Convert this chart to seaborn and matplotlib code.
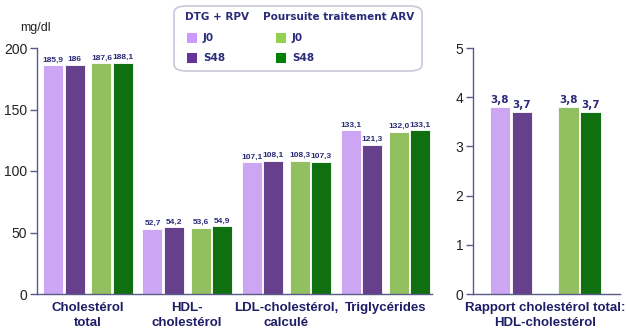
import matplotlib
matplotlib.use("Agg")
import matplotlib.pyplot as plt
from matplotlib.patches import FancyBboxPatch, Rectangle
import numpy as np
import pandas as pd
import seaborn as sns

# Lipid parameters (mg/dl), per arm and visit
categories = ["Cholestérol\ntotal", "HDL-\ncholestérol", "LDL-cholestérol,\ncalculé", "Triglycérides"]
dtg_j0 = [185.9, 52.7, 107.1, 133.1]
dtg_s48 = [186.0, 54.2, 108.1, 121.3]
arv_j0 = [187.6, 53.6, 108.3, 132.0]
arv_s48 = [188.1, 54.9, 107.3, 133.1]
dtg_j0_txt = ["185,9", "52,7", "107,1", "133,1"]
dtg_s48_txt = ["186", "54,2", "108,1", "121,3"]
arv_j0_txt = ["187,6", "53,6", "108,3", "132,0"]
arv_s48_txt = ["188,1", "54,9", "107,3", "133,1"]

# Total cholesterol / HDL ratio
ratio_category = "Rapport cholestérol total:\nHDL-cholestérol"
ratio_values = [3.8, 3.7, 3.8, 3.7]
ratio_txt = ["3,8", "3,7", "3,8", "3,7"]

series = ["DTG J0", "DTG S48", "ARV J0", "ARV S48"]
colors = ["#CC99FF", "#663399", "#92D050", "#008000"]
navy = "#2B2B7A"
label_navy = "#1E1E66"
axis_col = "#5B5B8A"

sns.set_theme(style="white")
plt.rcParams["font.family"] = ["Liberation Sans", "DejaVu Sans"]

fig = plt.figure(figsize=(6.26, 3.31), dpi=100)
W, H = 626, 331


def px_axes(x0, x1, y0, y1):
    return fig.add_axes([x0 / W, 1 - y1 / H, (x1 - x0) / W, (y1 - y0) / H])


ax = px_axes(37, 432, 48, 294)
ax2 = px_axes(473, 620, 48, 294)

# --- left panel: mg/dl values ---
offsets = [-0.35, -0.135, 0.135, 0.35]
rows = []
for s, off, vals, txts in zip(series, offsets, [dtg_j0, dtg_s48, arv_j0, arv_s48],
                              [dtg_j0_txt, dtg_s48_txt, arv_j0_txt, arv_s48_txt]):
    for i, (v, t) in enumerate(zip(vals, txts)):
        rows.append({"pos": i + off, "value": v, "series": s, "txt": t})
df = pd.DataFrame(rows)

sns.barplot(data=df, x="pos", y="value", hue="series", hue_order=series,
            palette=colors, native_scale=True, dodge=False, width=0.94,
            edgecolor="white", linewidth=0.6, legend=False, ax=ax)
for _, r in df.iterrows():
    ax.text(r["pos"], r["value"] + 1.5, r["txt"], ha="center", va="bottom",
            fontsize=6, fontweight="bold", color=navy)

ax.set_xlim(-0.515, 3.47)
ax.set_ylim(0, 200)
ax.set_yticks([0, 50, 100, 150, 200])
ax.set_xticks(range(len(categories)))
ax.set_xticklabels(categories, fontsize=9.5, fontweight="bold", color=label_navy,
                   linespacing=1.25)
ax.set_xlabel("")
ax.set_ylabel("")
fig.text(20 / W, 1 - 28 / H, "mg/dl", ha="left", va="center",
         fontsize=9, color="#222222")

# --- right panel: ratio ---
roffsets = [-0.455, -0.232, 0.237, 0.46]
rrows = [{"pos": o, "value": v, "series": s, "txt": t}
         for s, o, v, t in zip(series, roffsets, ratio_values, ratio_txt)]
rdf = pd.DataFrame(rrows)
sns.barplot(data=rdf, x="pos", y="value", hue="series", hue_order=series,
            palette=colors, native_scale=True, dodge=False, width=0.94,
            edgecolor="white", linewidth=0.6, legend=False, ax=ax2)
for _, r in rdf.iterrows():
    ax2.text(r["pos"], r["value"] + 0.04, r["txt"], ha="center", va="bottom",
             fontsize=7.5, fontweight="bold", color=navy,
             family=["DejaVu Sans"])
ax2.set_xlim(-0.727, 0.758)
ax2.set_ylim(0, 5)
ax2.set_yticks([0, 1, 2, 3, 4, 5])
ax2.set_xticks([0])
ax2.set_xticklabels([ratio_category], fontsize=9.5, fontweight="bold",
                    color=label_navy, linespacing=1.25)
ax2.set_xlabel("")
ax2.set_ylabel("")

for a in (ax, ax2):
    sns.despine(ax=a, top=True, right=True)
    a.spines["left"].set_color(axis_col)
    a.spines["bottom"].set_color(axis_col)
    a.spines["left"].set_linewidth(1.0)
    a.spines["bottom"].set_linewidth(1.0)
    a.tick_params(axis="y", left=True, length=5, width=1, color=axis_col,
                  labelsize=10, labelcolor="#222222", pad=2)
    a.tick_params(axis="x", bottom=False, pad=0)

# --- legend box ---
box = FancyBboxPatch((174 / W, 1 - 71 / H), 248 / W, 65 / H,
                     boxstyle="round,pad=0,rounding_size=0.02",
                     transform=fig.transFigure, facecolor="white",
                     edgecolor="#C8C8DC", linewidth=1.2)
fig.patches.append(box)


def fig_text(x, y, s, **kw):
    fig.text(x / W, 1 - y / H, s, color=navy, fontweight="bold", va="center",
             family=["DejaVu Sans"], **kw)


fig_text(185, 17, "DTG + RPV", fontsize=7.5)
fig_text(263, 17, "Poursuite traitement ARV", fontsize=7.5)
legend_items = [(187, 38, colors[0], "J0"), (187, 58, colors[1], "S48"),
                (276, 38, colors[2], "J0"), (276, 58, colors[3], "S48")]
for x, y, c, lab in legend_items:
    fig.patches.append(Rectangle((x / W, 1 - (y + 5) / H), 10 / W, 10 / H,
                                 transform=fig.transFigure, facecolor=c,
                                 edgecolor="none"))
    fig_text(x + 16, y, lab, fontsize=7.5)

fig.savefig("out.png", dpi=100)
